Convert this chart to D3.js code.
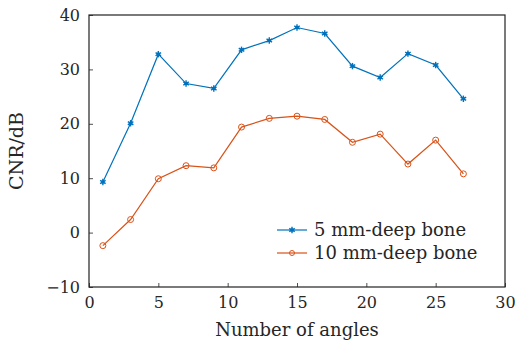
<!DOCTYPE html>
<html>
<head>
<meta charset="utf-8">
<script src="https://cdn.jsdelivr.net/npm/d3@7"></script>
<style>
  body { margin: 0; background: #fff; }
  svg text { font-family: "DejaVu Serif", "Liberation Serif", serif; fill: #262626; }
</style>
</head>
<body>
<svg id="canvas" width="516" height="343"></svg>
<script>
// number of angles
const angles = [1, 3, 5, 7, 9, 11, 13, 15, 17, 19, 21, 23, 25, 27];
// CNR values (dB)
const bone5 = [9.3, 20.1, 32.8, 27.4, 26.5, 33.6, 35.3, 37.7, 36.6, 30.6, 28.5, 32.9, 30.8, 24.6];
const bone10 = [-2.4, 2.4, 9.9, 12.3, 11.9, 19.4, 21.0, 21.4, 20.8, 16.6, 18.1, 12.6, 17.0, 10.8];
const xTicks = [0, 5, 10, 15, 20, 25, 30];
const yTicks = [-10, 0, 10, 20, 30, 40];
const seriesNames = ["5 mm-deep bone", "10 mm-deep bone"];

const svg = d3.select("#canvas");
const margin = { left: 89, right: 11, top: 15, bottom: 56 };
const width = +svg.attr("width");
const height = +svg.attr("height");

const x = d3.scaleLinear().domain([0, 30]).range([margin.left, width - margin.right]);
const y = d3.scaleLinear().domain([-10, 40]).range([height - margin.bottom, margin.top]);

const blue = "#0072BD";
const orange = "#D95319";

// x axis with inward ticks
const xAxis = svg.append("g")
  .attr("transform", `translate(0,${y(-10)})`)
  .call(d3.axisBottom(x).tickValues(xTicks).tickSizeInner(-4).tickSizeOuter(0).tickPadding(10));
xAxis.selectAll("text").attr("font-size", 16).attr("fill", "#262626");

const yAxis = svg.append("g")
  .attr("transform", `translate(${x(0)},0)`)
  .call(d3.axisLeft(y).tickValues(yTicks).tickSizeInner(-4).tickSizeOuter(0).tickPadding(9)
    .tickFormat(d => d < 0 ? "\u2212" + Math.abs(d) : d));
yAxis.selectAll("text").attr("font-size", 16).attr("fill", "#262626");

svg.selectAll(".domain").remove();
svg.selectAll(".tick line").attr("stroke", "#222").attr("stroke-width", 0.8);

// box
svg.append("rect")
  .attr("x", x(0)).attr("y", y(40))
  .attr("width", x(30) - x(0)).attr("height", y(-10) - y(40))
  .attr("fill", "none").attr("stroke", "#222").attr("stroke-width", 1.2);

const line = d3.line().x(d => x(d[0])).y(d => y(d[1]));

const asterisk = (g, cx, cy, color) => {
  const r = 3.2;
  for (let a = 0; a < 3; a++) {
    const ang = a * Math.PI / 3 + Math.PI / 2;
    g.append("line")
      .attr("x1", cx + r * Math.cos(ang)).attr("y1", cy + r * Math.sin(ang))
      .attr("x2", cx - r * Math.cos(ang)).attr("y2", cy - r * Math.sin(ang))
      .attr("stroke", color).attr("stroke-width", 1.4);
  }
  g.append("circle").attr("cx", cx).attr("cy", cy).attr("r", 1.8).attr("fill", color);
};

// blue series
svg.append("path")
  .datum(angles.map((a, i) => [a, bone5[i]]))
  .attr("d", line).attr("fill", "none").attr("stroke", blue).attr("stroke-width", 1.2);
const gBlue = svg.append("g");
angles.forEach((a, i) => asterisk(gBlue, x(a), y(bone5[i]), blue));

// orange series
svg.append("path")
  .datum(angles.map((a, i) => [a, bone10[i]]))
  .attr("d", line).attr("fill", "none").attr("stroke", orange).attr("stroke-width", 1.2);
svg.append("g").selectAll("circle")
  .data(angles)
  .enter()
  .append("circle")
  .attr("cx", d => x(d))
  .attr("cy", (d, i) => y(bone10[i]))
  .attr("r", 3)
  .attr("fill", "none")
  .attr("stroke", orange)
  .attr("stroke-width", 1);

// legend
const legend = svg.append("g").attr("transform", "translate(277,230)");
seriesNames.forEach((name, i) => {
  const color = i === 0 ? blue : orange;
  const row = legend.append("g").attr("transform", `translate(0,${i * 23})`);
  row.append("line").attr("x1", 0).attr("x2", 30).attr("y1", 0).attr("y2", 0)
    .attr("stroke", color).attr("stroke-width", 1.2);
  if (i === 0) asterisk(row, 15, 0, color);
  else row.append("circle").attr("cx", 15).attr("cy", 0).attr("r", 2.5)
    .attr("fill", "none").attr("stroke", color);
  row.append("text").attr("x", 37).attr("y", 6).attr("font-size", 18).text(name);
});

// axis titles
svg.append("text")
  .attr("x", (x(0) + x(30)) / 2).attr("y", 336)
  .attr("text-anchor", "middle").attr("font-size", 18)
  .text("Number of angles");

svg.append("text")
  .attr("transform", `translate(23,${(y(-10) + y(40)) / 2}) rotate(-90)`)
  .attr("text-anchor", "middle").attr("font-size", 19)
  .text("CNR/dB");
</script>
</body>
</html>
